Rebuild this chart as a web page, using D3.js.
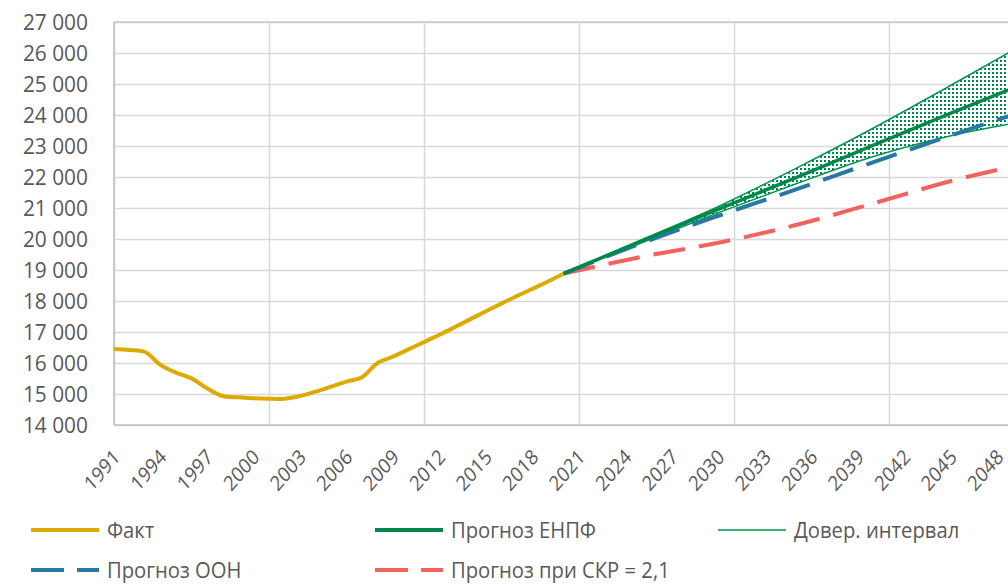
<!DOCTYPE html>
<html>
<head>
<meta charset="utf-8">
<script src="https://cdn.jsdelivr.net/npm/d3@7"></script>
<style>
  body { margin: 0; background: #fff; }
  svg { display: block; font-family: "Open Sans", sans-serif; }
</style>
</head>
<body>
<div id="chart"></div>
<script>
// данные (тыс. человек)
const factYears = [1991, 1992, 1993, 1994, 1995, 1996, 1997, 1998, 1999, 2000,
  2001, 2002, 2003, 2004, 2005, 2006, 2007, 2008, 2009, 2010,
  2011, 2012, 2013, 2014, 2015, 2016, 2017, 2018, 2019, 2020];
const factValues = [16452, 16420, 16355, 15940, 15690, 15505, 15185, 14935, 14893, 14860,
  14845, 14850, 14935, 15075, 15235, 15400, 15540, 16000, 16205, 16440,
  16675, 16910, 17160, 17415, 17670, 17920, 18160, 18395, 18630, 18880];

const forecastYears = [2020, 2025, 2030, 2035, 2040, 2045, 2050];
const enpfValues  = [18880, 19930, 20960, 21980, 23030, 24060, 25070];
const upperValues = [18880, 19960, 21050, 22280, 23580, 24960, 26370];
const lowerValues = [18880, 19870, 20850, 21780, 22660, 23330, 23820];
const unValues    = [18880, 19860, 20750, 21600, 22480, 23340, 24180];
const tfrValues   = [18880, 19420, 19880, 20450, 21150, 21870, 22450];

const yTicks = [14000, 15000, 16000, 17000, 18000, 19000, 20000,
  21000, 22000, 23000, 24000, 25000, 26000, 27000];
const xLabelYears = [1991, 1994, 1997, 2000, 2003, 2006, 2009, 2012, 2015, 2018,
  2021, 2024, 2027, 2030, 2033, 2036, 2039, 2042, 2045, 2048];
const gridYears = [1991, 2001, 2011, 2021, 2031, 2041, 2051];

const colors = {
  fact: "#DCAA00",
  enpf: "#00874A",
  band: "#00954F",
  un: "#2779A3",
  tfr: "#F4625E"
};

const margins = { top: 22, left: 114 };
const plot_height = 403;

const x_scale = d3.scaleLinear().domain([1991, 2051]).range([margins.left, margins.left + 60 * 15.5]);
const y_scale = d3.scaleLinear().domain([14000, 27000]).range([margins.top + plot_height, margins.top]);

const svg = d3.select("#chart").append("svg")
  .attr("width", 1008)
  .attr("height", 585);

// точечная заливка для интервала
const pattern = svg.append("defs").append("pattern")
  .attr("id", "dots")
  .attr("patternUnits", "userSpaceOnUse")
  .attr("width", 4)
  .attr("height", 4);
pattern.append("rect").attr("width", 4).attr("height", 4).attr("fill", "#fff");
pattern.append("rect").attr("width", 2).attr("height", 2).attr("fill", colors.enpf);

// сетка
svg.append("g")
  .attr("class", "y grid")
  .attr("transform", `translate(${margins.left},0)`)
  .call(d3.axisLeft(y_scale).tickValues(yTicks).tickSize(-1100).tickFormat(""))
  .call(g => g.select(".domain").remove())
  .call(g => g.selectAll("line").attr("stroke", "#D9D9D9").attr("stroke-width", 1.5));

svg.append("g")
  .attr("class", "x grid")
  .attr("transform", `translate(0,${margins.top})`)
  .call(d3.axisBottom(x_scale).tickValues(gridYears).tickSize(plot_height).tickFormat(""))
  .call(g => g.select(".domain").remove())
  .call(g => g.selectAll("line").attr("stroke", "#D9D9D9").attr("stroke-width", 1.5));

// рамка осей
svg.append("line")
  .attr("x1", margins.left).attr("x2", margins.left)
  .attr("y1", margins.top).attr("y2", margins.top + plot_height)
  .attr("stroke", "#BFBFBF").attr("stroke-width", 1.5);
svg.append("line")
  .attr("x1", margins.left).attr("x2", 1100)
  .attr("y1", margins.top + plot_height).attr("y2", margins.top + plot_height)
  .attr("stroke", "#BFBFBF").attr("stroke-width", 1.5);
svg.append("line")
  .attr("x1", margins.left).attr("x2", 1100)
  .attr("y1", margins.top).attr("y2", margins.top)
  .attr("stroke", "#C8C8C8").attr("stroke-width", 1.5);

// подписи осей
svg.append("g")
  .attr("class", "y axis")
  .attr("transform", `translate(${margins.left},0)`)
  .call(d3.axisLeft(y_scale).tickValues(yTicks).tickSize(0)
    .tickFormat(d => d3.format(",")(d).replace(",", " ")))
  .call(g => g.select(".domain").remove())
  .call(g => g.selectAll("text")
    .attr("x", 0)
    .attr("fill", "#595959")
    .attr("font-size", 22)
    .attr("font-family", "Open Sans, sans-serif")
    .attr("transform", "translate(-26,0) scale(0.95,1)"));

svg.append("g")
  .attr("class", "x axis")
  .attr("transform", `translate(0,${margins.top + plot_height})`)
  .call(d3.axisBottom(x_scale).tickValues(xLabelYears).tickSize(0).tickFormat(d3.format("d")))
  .call(g => g.select(".domain").remove())
  .call(g => g.selectAll("text")
    .attr("x", 0)
    .attr("y", 0)
    .attr("fill", "#595959")
    .attr("font-size", 21)
    .attr("font-family", "Open Sans, sans-serif")
    .attr("text-anchor", "end")
    .attr("dy", "0.35em")
    .attr("transform", "translate(2,28) scale(0.86,1) rotate(-45)"));

// серии
const fact = factYears.map((y, i) => [y, factValues[i]]);
const band = forecastYears.map((y, i) => [y, upperValues[i], lowerValues[i]]);
const series = values => forecastYears.map((y, i) => [y, values[i]]);

const line = curve => d3.line()
  .x(d => x_scale(d[0]))
  .y(d => y_scale(d[1]))
  .curve(curve);

const area = d3.area()
  .x(d => x_scale(d[0]))
  .y0(d => y_scale(d[2]))
  .y1(d => y_scale(d[1]))
  .curve(d3.curveMonotoneX);

svg.append("path")
  .datum(band)
  .attr("d", area)
  .attr("fill", "url(#dots)");

svg.append("path")
  .datum(series(upperValues))
  .attr("d", line(d3.curveMonotoneX))
  .attr("fill", "none")
  .attr("stroke", colors.band)
  .attr("stroke-width", 1.5);

svg.append("path")
  .datum(series(lowerValues))
  .attr("d", line(d3.curveMonotoneX))
  .attr("fill", "none")
  .attr("stroke", colors.band)
  .attr("stroke-width", 1.5);

svg.append("path")
  .datum(series(tfrValues))
  .attr("d", line(d3.curveMonotoneX))
  .attr("fill", "none")
  .attr("stroke", colors.tfr)
  .attr("stroke-width", 4)
  .attr("stroke-dasharray", "32,14");

svg.append("path")
  .datum(series(unValues))
  .attr("d", line(d3.curveMonotoneX))
  .attr("fill", "none")
  .attr("stroke", colors.un)
  .attr("stroke-width", 4)
  .attr("stroke-dasharray", "32,14");

svg.append("path")
  .datum(series(enpfValues))
  .attr("d", line(d3.curveMonotoneX))
  .attr("fill", "none")
  .attr("stroke", colors.enpf)
  .attr("stroke-width", 3.5);

svg.append("path")
  .datum(fact)
  .attr("d", line(d3.curveCatmullRom))
  .attr("fill", "none")
  .attr("stroke", colors.fact)
  .attr("stroke-width", 4)
  .attr("stroke-linejoin", "round");

// легенда
const legend_items = [
  { label: "Факт", color: colors.fact, width: 4, dash: null, x: 31, y: 530 },
  { label: "Прогноз ЕНПФ", color: colors.enpf, width: 4, dash: null, x: 375, y: 530 },
  { label: "Довер. интервал", color: colors.band, width: 1.5, dash: null, x: 718, y: 530 },
  { label: "Прогноз ООН", color: colors.un, width: 4, dash: "33,13", x: 31, y: 570 },
  { label: "Прогноз при СКР = 2,1", color: colors.tfr, width: 4, dash: "33,13", x: 375, y: 570 }
];

const legend = svg.append("g").attr("class", "legend");
const items = legend.selectAll("g")
  .data(legend_items)
  .enter()
  .append("g")
  .attr("transform", d => `translate(${d.x},${d.y})`);

items.append("line")
  .attr("x1", 0).attr("x2", 68)
  .attr("stroke", d => d.color)
  .attr("stroke-width", d => d.width)
  .attr("stroke-dasharray", d => d.dash);

items.append("text")
  .attr("dy", "0.35em")
  .attr("fill", "#595959")
  .attr("font-size", 22)
  .attr("transform", "translate(76,0) scale(0.92,1)")
  .text(d => d.label);
</script>
</body>
</html>
